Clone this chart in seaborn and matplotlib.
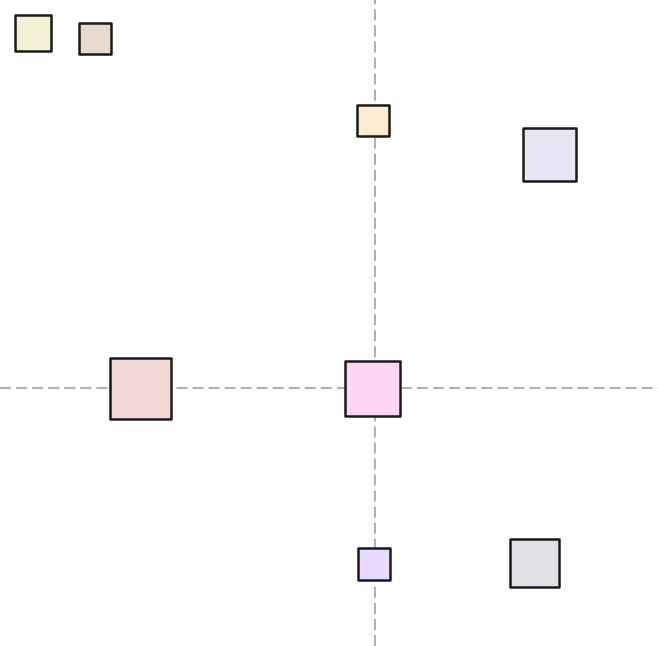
import matplotlib
matplotlib.use("Agg")
import matplotlib.pyplot as plt
import seaborn as sns
import pandas as pd

names = ["A", "B", "C", "D", "E", "F", "G", "H"]
x_vals = [-342, -280, -2, 174.5, -234.5, -2.5, -1, 159.5]
y_vals = [355, 349.5, 267.5, 233.5, -0.5, -0.5, -176, -175]
size_vals = [690, 520, 520, 1460, 1870, 1620, 550, 1240]
colors = ["#F5F1D6", "#E9D9CE", "#FFEBD3", "#E7E7F6",
          "#F2D8D4", "#FFD5F1", "#E8DAFF", "#E0E1E6"]

df = pd.DataFrame({"name": names, "x": x_vals, "y": y_vals})

sns.set_style("white")
fig = plt.figure(figsize=(6.58, 6.46), dpi=100)
ax = fig.add_axes([0, 0, 1, 1])

ax.axhline(0, color="#B0B0B0", lw=1.5, dashes=(5.3, 2.4), zorder=1)
ax.axvline(0, color="#B0B0B0", lw=1.5, dashes=(5.3, 2.4), zorder=1)

sns.scatterplot(data=df, x="x", y="y", hue="name", size="name",
                palette=dict(zip(names, colors)),
                sizes=dict(zip(names, size_vals)),
                marker="s", edgecolor="#1a1a1a", linewidth=1.8,
                legend=False, ax=ax, zorder=3)

ax.set_xlim(-375, 283)
ax.set_ylim(-258, 388)
ax.axis("off")
fig.savefig("out.png", dpi=100)
